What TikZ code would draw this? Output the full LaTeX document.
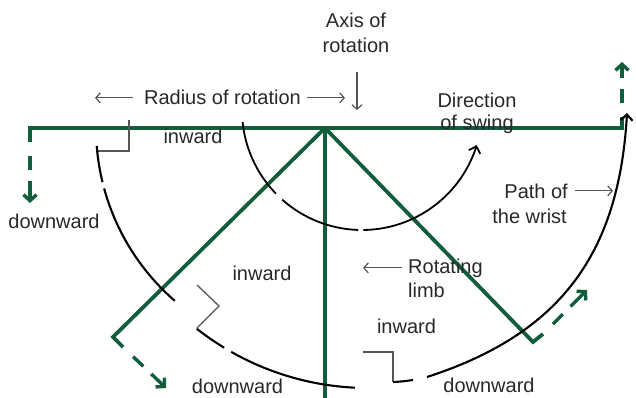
\documentclass[tikz,border=0pt]{standalone}
\usepackage{fontspec}
\setmainfont{Liberation Sans}
\usetikzlibrary{arrows.meta}
\definecolor{limbgreen}{RGB}{18,94,60}
\definecolor{txtgray}{RGB}{40,40,40}
\definecolor{stepgray}{RGB}{85,85,85}
\begin{document}
\begin{tikzpicture}[x=1pt,y=-1pt,
  limb/.style={draw=limbgreen,line width=3.8pt,line join=miter},
  limbmove/.style={draw=limbgreen,line width=3.4pt,
    dash pattern=on 0pt off 14pt on 14pt off 11pt on 80pt,
    -{Straight Barb[length=6pt,width=13pt]}},
  wristpath/.style={draw=black,line width=2.1pt},
  swing/.style={draw=black,line width=1.8pt},
  stepline/.style={draw=stepgray,line width=1.3pt},
  lbl/.style={text=txtgray,font=\fontsize{20}{24}\selectfont,inner sep=0pt,anchor=base},
  lblarrow/.style={draw=stepgray,line width=1.2pt,-{Straight Barb[length=4.5pt,width=10pt]}},
  bigtip/.style={-{Straight Barb[length=6pt,width=12pt]}},
]
\useasboundingbox (0,0) rectangle (636,398);

% key points
\coordinate (O) at (325,128);
\coordinate (L) at (30,128);
\coordinate (R) at (622,128);
\coordinate (DL) at (113,337);
\coordinate (DR) at (533,342);
\coordinate (DB) at (325,398);
\coordinate (Lh) at (30,142);
\coordinate (Rh) at (622,117);
\coordinate (DLh) at (123,347);
\coordinate (DRh) at (543,334);
\coordinate (Lt) at (30,203);
\coordinate (Rt) at (622,62);
\coordinate (DLt) at (166,388);
\coordinate (DRt) at (587,290);

% limbs (green)
\draw[limb] (Lh) -- (L) -- (R) -- (Rh);
\draw[limb] (O) -- (DL) -- (DLh);
\draw[limb] (O) -- (DR) -- (DRh);
\draw[limb] (O) -- (DB);

% motion arrows of the limb ends
\draw[limbmove] (Lh) -- (Lt);
\draw[limbmove] (Rh) -- (Rt);
\draw[limbmove] (DLh) -- (DLt);
\draw[limbmove] (DRh) -- (DRt);

% inward steps
\coordinate (s1a) at (129,120); \coordinate (s1b) at (129,151); \coordinate (s1c) at (98,151);
\coordinate (s2a) at (197,285); \coordinate (s2b) at (219,306); \coordinate (s2c) at (197,328);
\coordinate (s3a) at (363,352); \coordinate (s3b) at (393,352); \coordinate (s3c) at (393,382);
\draw[stepline] (s1a) -- (s1b) -- (s1c);
\draw[stepline] (s2a) -- (s2b) -- (s2c);
\draw[stepline] (s3a) -- (s3b) -- (s3c);

% path of the wrist
\draw[wristpath] plot[domain=166.3:175.5,samples=15] ({325+229*cos(\x)},{128+229*sin(\x)});
\draw[wristpath] plot[domain=131:164.7,samples=40] ({325+229*cos(\x)},{128+229*sin(\x)});
\draw[wristpath] plot[domain=92.7:119.6,samples=40] ({368+277*cos(\x)},{111+277*sin(\x)});
\draw[wristpath] plot[domain=121.3:128.2,samples=12] ({368+277*cos(\x)},{111+277*sin(\x)});
\coordinate (w3a) at (393,382);
\coordinate (w3b) at (413,380);
\coordinate (w3c) at (427,377);
\coordinate (w3d) at (627,113);
\draw[wristpath] (w3a) .. controls (400,381.8) and (406,381) .. (w3b);
\draw[wristpath,bigtip] (w3c) .. controls (560,334) and (619,254) .. (w3d);

% direction of swing
\draw[swing,{Straight Barb[length=6pt,width=12pt]}-] plot[domain=17:89.4,samples=50] ({362+120*cos(\x)},{110+120*sin(\x)});
\draw[swing] plot[domain=91.8:131.7,samples=30] ({362+120*cos(\x)},{110+120*sin(\x)});
\draw[swing] plot[domain=135.8:174.3,samples=30] ({362+120*cos(\x)},{110+120*sin(\x)});

% labels
\node[lbl] (axis1) at (356,28) {Axis of};
\node[lbl] (axis2) at (356,52.5) {rotation};
\node[lbl] (radius) at (222.5,105) {Radius of rotation};
\node[lbl] (inwardTop) at (193,143) {inward};
\node[lbl] (downL) at (54,228) {downward};
\node[lbl] (dir1) at (477,108) {Direction};
\node[lbl] (dir2) at (477,130) {of swing};
\node[lbl,anchor=base east] (path1) at (568,198) {Path of};
\node[lbl,anchor=base east] (path2) at (567,223) {the wrist};
\node[lbl] (inwardMid) at (262,280) {inward};
\node[lbl,anchor=base west] (rot1) at (408,273) {Rotating};
\node[lbl,anchor=base west] (rot2) at (408,297) {limb};
\node[lbl] (inwardBot) at (406.5,333) {inward};
\node[lbl] (downB1) at (237.5,393) {downward};
\node[lbl] (downB2) at (489,392) {downward};

% label pointers
\coordinate (radL) at (95,0);
\coordinate (radR) at (345,0);
\coordinate (axisPt) at (357,110);
\coordinate (wristPt) at (613,0);
\coordinate (limbPt) at (363,0);
\draw[lblarrow] ([xshift=-11pt]radius.west) -- (radius.west -| radL);
\draw[lblarrow] ([xshift=6pt]radius.east) -- (radius.east -| radR);
\draw[lblarrow] (357,72) -- (axisPt);
\draw[lblarrow] ([xshift=7pt]path1.east) -- (path1.east -| wristPt);
\draw[lblarrow] ([xshift=-6pt]rot1.west) -- (rot1.west -| limbPt);
\end{tikzpicture}
\end{document}
